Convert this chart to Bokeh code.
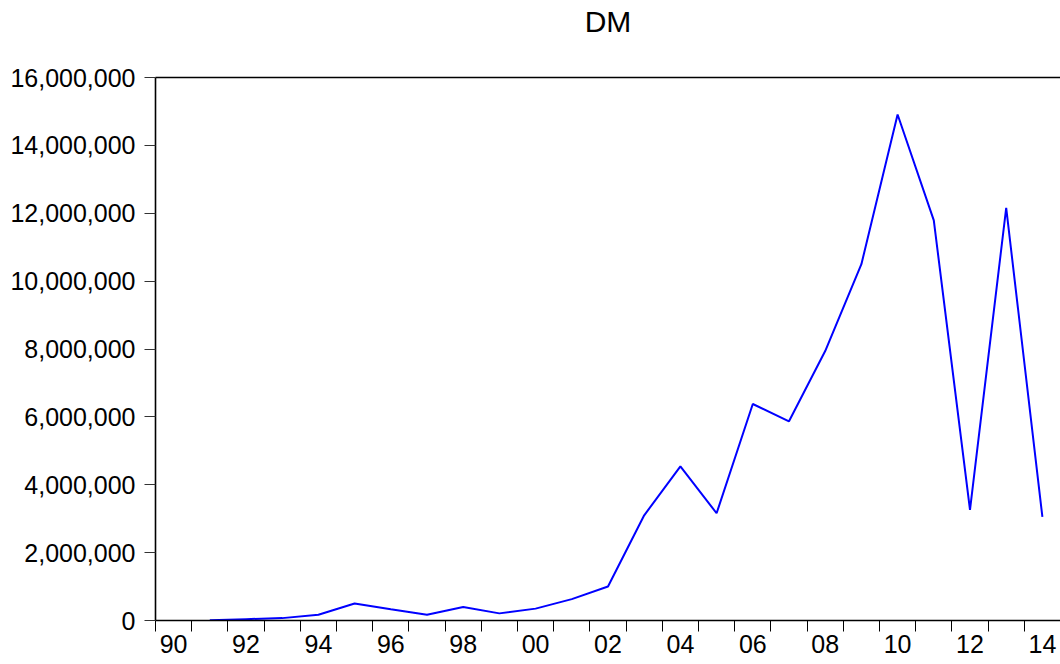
from bokeh.plotting import figure
from bokeh.models import Range1d, FixedTicker, NumeralTickFormatter, LinearAxis
from bokeh.embed import file_html
from bokeh.resources import INLINE

# ---- data ----
years = [1991, 1992, 1993, 1994, 1995, 1996, 1997, 1998, 1999, 2000, 2001, 2002,
         2003, 2004, 2005, 2006, 2007, 2008, 2009, 2010, 2011, 2012, 2013, 2014]
dm = [10000, 40000, 70000, 170000, 500000, 330000, 170000, 400000, 210000, 350000,
      630000, 1000000, 3100000, 4540000, 3160000, 6380000, 5870000, 7940000,
      10500000, 14910000, 11790000, 3260000, 12160000, 3050000]
x_label_years = [1990, 1992, 1994, 1996, 1998, 2000, 2002, 2004, 2006, 2008, 2010, 2012, 2014]
x_labels = ["90", "92", "94", "96", "98", "00", "02", "04", "06", "08", "10", "12", "14"]
y_ticks = [0, 2000000, 4000000, 6000000, 8000000, 10000000, 12000000, 14000000, 16000000]
title_text = "DM"

FONT = "Liberation Sans"

p = figure(width=1060, height=664, output_backend="svg", toolbar_location=None,
           x_range=Range1d(1989.5, 2014.5), y_range=Range1d(0, 16000000),
           min_border_left=155, min_border_right=0, min_border_top=77, min_border_bottom=44)

p.outline_line_color = None
p.xgrid.visible = False
p.ygrid.visible = False
p.background_fill_color = "white"
p.border_fill_color = "white"

p.line(years, dm, line_color="#0000FF", line_width=2)

# x axis: labels centred in year intervals, minor ticks at year boundaries
xa = p.xaxis[0]
xa.ticker = FixedTicker(ticks=x_label_years,
                        minor_ticks=[y - 0.5 for y in range(1990, 2016)])
xa.major_label_overrides = {y: s for y, s in zip(x_label_years, x_labels)}
xa.major_tick_line_color = None
xa.major_tick_out = 11
xa.major_tick_in = 0
xa.minor_tick_out = 11
xa.minor_tick_in = 0
xa.minor_tick_line_color = "black"
xa.minor_tick_line_width = 1
xa.axis_line_width = 1.6
xa.axis_line_color = "black"
xa.major_label_text_font = FONT
xa.major_label_text_font_size = "25px"
xa.major_label_text_color = "black"
xa.major_label_standoff = 3

ya = p.yaxis[0]
ya.ticker = FixedTicker(ticks=y_ticks)
ya.formatter = NumeralTickFormatter(format="0,0")
ya.major_tick_out = 11
ya.major_tick_in = 0
ya.major_tick_line_color = "#333333"
ya.minor_tick_line_color = None
ya.axis_line_width = 1.6
ya.axis_line_color = "black"
ya.major_label_text_font = FONT
ya.major_label_text_font_size = "25px"
ya.major_label_text_color = "black"
ya.major_label_standoff = 9

# top frame line, carrying the chart title as its label
top = LinearAxis(ticker=FixedTicker(ticks=[]), major_label_text_font_size="0px",
                 major_tick_line_color=None, minor_tick_line_color=None,
                 major_tick_out=0, major_tick_in=0,
                 axis_line_width=1.6, axis_line_color="black",
                 axis_label=title_text, axis_label_text_font=FONT,
                 axis_label_text_font_size="30px", axis_label_text_font_style="normal",
                 axis_label_text_color="black", axis_label_standoff=40)
p.add_layout(top, "above")

open("out.html", "w").write(file_html(p, INLINE))
